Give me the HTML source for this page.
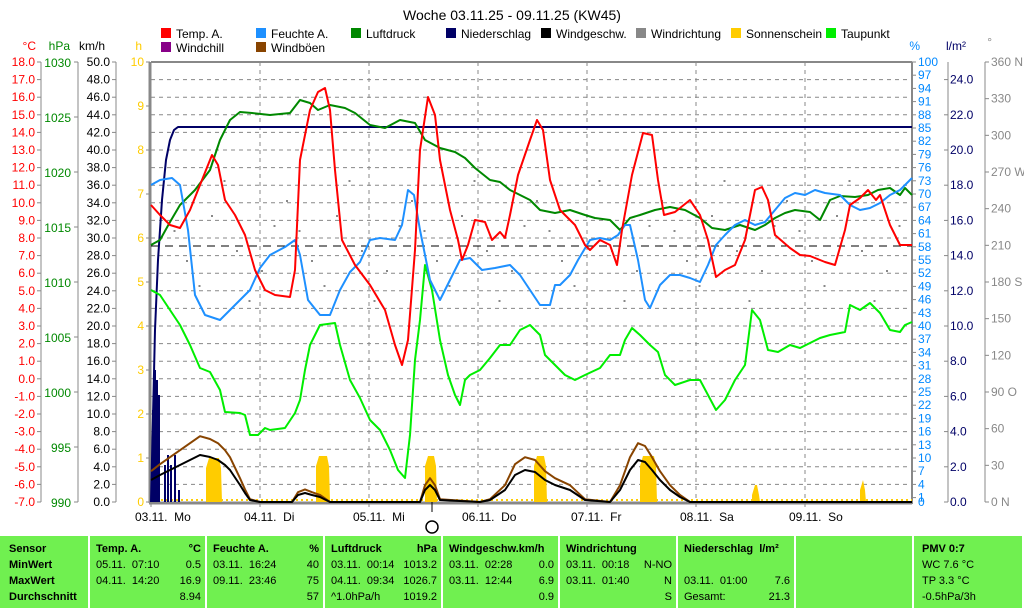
<!DOCTYPE html>
<html><head><meta charset="utf-8">
<style>
body{margin:0;background:#fff;width:1024px;height:608px;overflow:hidden;font-family:"Liberation Sans",sans-serif;}
svg{position:absolute;left:0;top:0}
#tbl{position:absolute;left:0;top:536px;width:1024px;height:72px;background:#70f050;}
.p{position:absolute;top:0;height:72px;border-left:2px solid #fff;font-size:11px;color:#000}
.r{position:absolute;white-space:nowrap}
.b{font-weight:bold}
</style></head><body>
<svg id="s" width="1024" height="536" font-family="Liberation Sans, sans-serif" font-size="12"></svg>
<div id="tbl">
<div class="p" style="left:-2px;width:88px">
<div class="r b" style="left:9px;top:7px">Sensor</div><div class="r b" style="left:9px;top:23px">MinWert</div><div class="r b" style="left:9px;top:39px">MaxWert</div><div class="r b" style="left:9px;top:55px">Durchschnitt</div></div>
<div class="p" style="left:88px;width:115px">
<div class="r b" style="left:6px;top:7px">Temp. A.</div><div class="r b" style="right:4px;top:7px">°C</div>
<div class="r" style="left:6px;top:23px">05.11.&nbsp; 07:10</div><div class="r" style="right:4px;top:23px">0.5</div>
<div class="r" style="left:6px;top:39px">04.11.&nbsp; 14:20</div><div class="r" style="right:4px;top:39px">16.9</div>
<div class="r" style="right:4px;top:55px">8.94</div></div>
<div class="p" style="left:205px;width:116px">
<div class="r b" style="left:6px;top:7px">Feuchte A.</div><div class="r b" style="right:4px;top:7px">%</div>
<div class="r" style="left:6px;top:23px">03.11.&nbsp; 16:24</div><div class="r" style="right:4px;top:23px">40</div>
<div class="r" style="left:6px;top:39px">09.11.&nbsp; 23:46</div><div class="r" style="right:4px;top:39px">75</div>
<div class="r" style="right:4px;top:55px">57</div></div>
<div class="p" style="left:323px;width:116px">
<div class="r b" style="left:6px;top:7px">Luftdruck</div><div class="r b" style="right:4px;top:7px">hPa</div>
<div class="r" style="left:6px;top:23px">03.11.&nbsp; 00:14</div><div class="r" style="right:4px;top:23px">1013.2</div>
<div class="r" style="left:6px;top:39px">04.11.&nbsp; 09:34</div><div class="r" style="right:4px;top:39px">1026.7</div>
<div class="r" style="left:6px;top:55px">^1.0hPa/h</div><div class="r" style="right:4px;top:55px">1019.2</div></div>
<div class="p" style="left:441px;width:115px">
<div class="r b" style="left:6px;top:7px">Windgeschw.km/h</div>
<div class="r" style="left:6px;top:23px">03.11.&nbsp; 02:28</div><div class="r" style="right:4px;top:23px">0.0</div>
<div class="r" style="left:6px;top:39px">03.11.&nbsp; 12:44</div><div class="r" style="right:4px;top:39px">6.9</div>
<div class="r" style="right:4px;top:55px">0.9</div></div>
<div class="p" style="left:558px;width:116px">
<div class="r b" style="left:6px;top:7px">Windrichtung</div>
<div class="r" style="left:6px;top:23px">03.11.&nbsp; 00:18</div><div class="r" style="right:4px;top:23px">N-NO</div>
<div class="r" style="left:6px;top:39px">03.11.&nbsp; 01:40</div><div class="r" style="right:4px;top:39px">N</div>
<div class="r" style="right:4px;top:55px">S</div></div>
<div class="p" style="left:676px;width:116px">
<div class="r b" style="left:6px;top:7px">Niederschlag&nbsp; l/m²</div>
<div class="r" style="left:6px;top:39px">03.11.&nbsp; 01:00</div><div class="r" style="right:4px;top:39px">7.6</div>
<div class="r" style="left:6px;top:55px">Gesamt:</div><div class="r" style="right:4px;top:55px">21.3</div></div>
<div class="p" style="left:794px;width:116px"></div>
<div class="p" style="left:912px;width:108px;border-right:2px solid #fff">
<div class="r b" style="left:8px;top:7px">PMV 0:7</div>
<div class="r" style="left:8px;top:23px">WC 7.6 °C</div>
<div class="r" style="left:8px;top:39px">TP 3.3 °C</div>
<div class="r" style="left:8px;top:55px">-0.5hPa/3h</div></div>
</div>
<script>
const s=document.getElementById('s');let h='';
const T=(x,y,t,c,a,fs)=>h+=`<text x="${x}" y="${y}" fill="${c}" text-anchor="${a||'end'}" ${fs?`font-size="${fs}"`:''}>${t}</text>`;
const L=(x1,y1,x2,y2,c,w,d)=>h+=`<line x1="${x1}" y1="${y1}" x2="${x2}" y2="${y2}" stroke="${c}" stroke-width="${w||1}" ${d?`stroke-dasharray="${d}"`:''}/>`;
const P=(pts,c,w)=>h+=`<polyline points="${pts.map(p=>p.join(',')).join(' ')}" fill="none" stroke="${c}" stroke-width="${w||2}" stroke-linejoin="round"/>`;
const X0=151,X1=912,Y0=62,Y1=502;
T(512,20,'Woche 03.11.25 - 09.11.25 (KW45)','#000','middle',14);
for(let i=1;i<25;i++){let y=Y1-i*17.6;L(X0,y,X1,y,'#888',1,'4,4');}
for(let d=1;d<7;d++){let x=X0+d*109;L(x,Y0,x,Y1,'#888',1,'4,4');}
T(36,50,'°C','#f00');T(70,50,'hPa','#080');T(105,50,'km/h','#000');T(142,50,'h','#fc0');
T(920,50,'%','#08f');T(966,50,'l/m²','#006');T(992,46,'°','#888');
L(41,Y0,41,Y1,'#888');L(78,Y0,78,Y1,'#888');L(116,Y0,116,Y1,'#888');
for(let i=0;i<=25;i++){let y=Y1-i*17.6;L(37,y,41,y,'#888');T(35,y+4,(i-7).toFixed(1),'#f00');}
for(let i=0;i<=8;i++){let y=Y1-i*55;L(74,y,78,y,'#888');T(71,y+5,(990+i*5),'#080');}
for(let i=0;i<=25;i++){let y=Y1-i*17.6;L(112,y,116,y,'#888');T(110,y+4,(i*2).toFixed(1),'#000');}
for(let i=0;i<=10;i++){let y=Y1-i*44;L(146,y,150,y,'#888');T(144,y+4,i,'#fc0');}
for(let v=100;v>=0;v-=3){let y=Y1-v*4.4;L(912,y,916,y,'#888');T(918,y+4,v,'#08f','start');}
T(918,Y1+4,'0','#08f','start');
L(948,Y0,948,Y1,'#888');
for(let i=0;i<=12;i++){let y=Y1-i*2*17.6;L(944,y,948,y,'#888');T(950,y+4,(i*2).toFixed(1),'#006','start');}
L(985,Y0,985,Y1,'#888');
const dn={0:' N',90:' O',180:' S',270:' W',360:' N'};
for(let v=0;v<=360;v+=30){let y=Y1-v*440/360;L(985,y,989,y,'#888');T(991,y+4,v+(dn[v]||''),'#888','start');}
L(X0-1,Y0,X0-1,Y1+1,'#888',3);L(X0-2,Y1+1,X1,Y1+1,'#888',3);L(X1,Y0,X1,Y1+2,'#888',2);L(X0,Y0,X1,Y0,'#888',2);
['03.11.  Mo','04.11.  Di','05.11.  Mi','06.11.  Do','07.11.  Fr','08.11.  Sa','09.11.  So'].forEach((t,d)=>{let x=X0+d*109;L(x,Y1,x,Y1+5,'#888');h+=`<text x="${x-16}" y="521" fill="#000" xml:space="preserve">${t}</text>`});
h+=`<circle cx="432" cy="527" r="6" fill="#fff" stroke="#000" stroke-width="1.5"/>`;L(432,502,432,512,'#000',1);
const lg=[[163,37,'#f00','Temp. A.'],[258,37,'#1e90ff','Feuchte A.'],[353,37,'#080','Luftdruck'],[448,37,'#006','Niederschlag'],[543,37,'#000','Windgeschw.'],[638,37,'#888','Windrichtung'],[733,37,'#fc0','Sonnenschein'],[828,37,'#0e0','Taupunkt'],[163,51,'#808','Windchill'],[258,51,'#840','Windböen']];
lg.forEach(([x,y,c,t])=>{h+=`<rect x="${x-2}" y="${y-9}" width="10" height="10" fill="${c}"/>`;T(x+13,y+1,t,'#000','start');});
[[206,222,458],[316,330,456],[425,437,456],[534,547,456],[640,657,456],[752,760,485],[860,866,480]].forEach(([a,b,y])=>{h+=`<polygon points="${a},${Y1} ${a},${y+10} ${a+3},${y} ${b-3},${y} ${b-1},${y+10} ${b},${Y1}" fill="#fc0"/>`});
L(X0,500,X1,500,'#fc0',2,'2,3');
L(X0,246,X1,246,'#000',1,'8,6');
for(let i=0;i<60;i++){let x=X0+10+i*12.5;let y=[200,230,260,285,215,180,250,300,270,225][i%10];h+=`<rect x="${x}" y="${y}" width="2" height="2" fill="#888"/>`;}
[[152,410],[154,370],[156,380],[158,395],[164,465],[167,455],[170,465],[174,455],[178,490]].forEach(([x,y])=>h+=`<rect x="${x}" y="${y}" width="2" height="${Y1-y}" fill="#006"/>`);
P([[151,502],[155,330],[158,260],[162,200],[166,160],[170,140],[174,130],[178,127],[912,127]],'#006',2);
P([[151,290],[160,295],[170,310],[180,325],[190,345],[200,368],[210,372],[220,390],[225,412],[240,413],[245,415],[250,435],[258,435],[265,428],[270,430],[285,428],[295,413],[300,400],[305,370],[310,345],[320,325],[335,323],[340,345],[350,380],[360,398],[370,420],[380,430],[390,450],[398,470],[405,478],[410,435],[415,360],[420,320],[425,265],[432,290],[440,340],[448,375],[455,395],[460,405],[465,380],[470,375],[480,370],[490,358],[500,345],[510,345],[520,330],[530,325],[540,335],[545,355],[555,365],[565,375],[575,380],[585,375],[600,368],[610,355],[620,355],[625,340],[632,328],[640,335],[650,345],[658,352],[665,375],[675,385],[690,380],[700,380],[708,395],[716,410],[725,400],[735,380],[745,365],[752,310],[760,320],[768,350],[778,352],[790,345],[800,348],[810,343],[820,338],[830,335],[845,332],[850,305],[860,310],[870,303],[880,313],[890,330],[900,332],[905,325],[912,322]],'#0e0');
P([[151,245],[160,240],[170,222],[180,205],[195,190],[210,170],[220,140],[230,120],[240,112],[252,113],[270,115],[290,113],[300,100],[310,103],[318,110],[330,105],[345,108],[355,113],[370,125],[385,128],[400,120],[415,123],[425,140],[440,148],[455,152],[465,158],[475,168],[490,180],[500,182],[510,190],[520,195],[530,200],[540,210],[555,213],[570,210],[585,215],[595,218],[610,220],[620,230],[630,218],[640,215],[655,210],[670,207],[685,210],[700,218],[712,228],[725,230],[740,225],[755,230],[765,225],[775,218],[785,213],[795,210],[810,212],[820,220],[830,200],[840,196],[855,197],[868,195],[878,190],[890,188],[900,195],[905,188],[912,195]],'#080');
P([[151,185],[160,180],[172,178],[180,185],[188,230],[195,295],[205,315],[220,320],[230,310],[240,300],[250,290],[260,268],[270,255],[285,247],[295,240],[300,255],[308,300],[320,315],[330,315],[340,290],[350,272],[360,262],[370,240],[380,238],[395,240],[402,225],[408,190],[414,195],[420,230],[430,280],[440,300],[450,280],[460,260],[470,258],[482,270],[495,268],[510,265],[520,275],[530,290],[540,305],[550,305],[555,285],[560,285],[570,275],[578,260],[590,240],[600,238],[610,240],[618,235],[625,225],[630,225],[638,260],[645,300],[650,308],[660,285],[670,275],[680,275],[690,278],[700,282],[708,265],[716,245],[725,235],[735,225],[745,220],[755,225],[765,222],[775,210],[785,198],[795,193],[805,195],[815,190],[825,193],[840,195],[850,205],[860,210],[870,208],[880,203],[890,195],[900,190],[912,178]],'#1e90ff');
P([[151,205],[160,215],[170,225],[180,228],[190,210],[200,185],[212,155],[218,165],[225,200],[235,215],[245,235],[255,270],[265,290],[275,295],[290,297],[295,270],[300,160],[310,110],[318,92],[325,88],[330,110],[335,170],[342,240],[355,265],[370,285],[385,310],[395,345],[402,365],[408,340],[415,250],[420,150],[428,97],[435,115],[440,160],[450,210],[458,240],[462,260],[468,245],[475,220],[485,222],[492,240],[500,232],[505,238],[510,215],[518,175],[530,140],[537,120],[543,130],[550,180],[560,210],[575,225],[585,245],[590,250],[600,240],[610,245],[617,265],[622,230],[632,175],[643,133],[652,135],[658,180],[664,215],[675,212],[690,200],[700,215],[708,240],[716,277],[725,270],[735,265],[745,240],[755,190],[762,187],[768,200],[775,235],[790,248],[800,255],[810,256],[825,262],[835,265],[845,230],[850,205],[860,198],[868,190],[876,200],[880,195],[890,225],[900,245],[912,245]],'#f00');
const w=[[151,480],[160,475],[170,470],[180,465],[190,460],[200,455],[210,457],[218,460],[225,465],[230,470],[240,485],[245,493],[250,500],[260,502],[292,502],[298,495],[305,493],[312,495],[320,497],[330,502],[420,502],[425,490],[430,485],[435,490],[440,500],[480,502],[490,500],[505,490],[515,475],[525,470],[535,472],[545,480],[555,485],[570,490],[585,500],[610,502],[620,490],[630,470],[638,460],[645,462],[652,470],[660,480],[670,490],[680,497],[690,502],[912,502]];
P(w.map(([x,y])=>[x,y<502?502-(502-y)*1.4:502]),'#840');
P(w,'#000');
s.innerHTML=h;
</script>
</body></html>
